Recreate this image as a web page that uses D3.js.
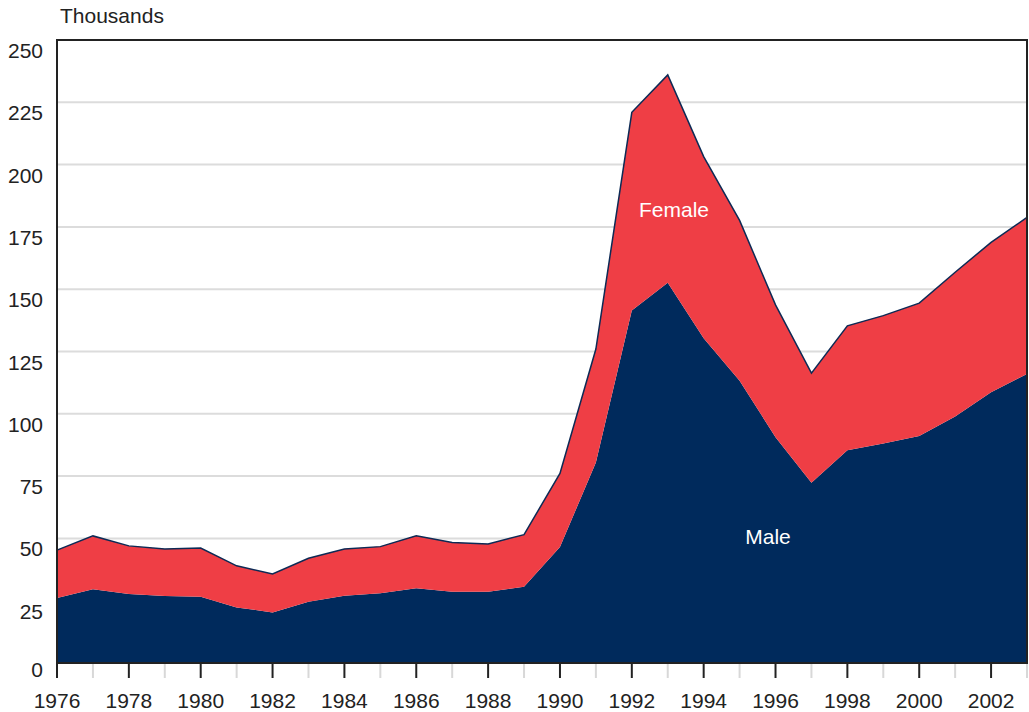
<!DOCTYPE html>
<html>
<head>
<meta charset="utf-8">
<script src="https://cdn.jsdelivr.net/npm/d3@7"></script>
<style>
  body { margin: 0; background: #fff; }
  svg { display: block; font-family: "Liberation Sans", Arial, sans-serif; }
</style>
</head>
<body>
<script>
// values in thousands
var years = [1976, 1977, 1978, 1979, 1980, 1981, 1982, 1983, 1984, 1985, 1986, 1987, 1988, 1989,
  1990, 1991, 1992, 1993, 1994, 1995, 1996, 1997, 1998, 1999, 2000, 2001, 2002, 2003];
var male = [26.1, 29.6, 27.7, 26.9, 26.6, 22.3, 20.3, 24.6, 27.0, 28.0, 30.0, 28.6, 28.6, 30.6,
  46.5, 80.5, 141.5, 152.6, 130.3, 113.3, 90.6, 72.3, 85.4, 88.1, 91.1, 98.9, 108.6, 116.0];
var female = [19.2, 21.4, 19.3, 18.8, 19.5, 16.7, 15.4, 17.4, 18.7, 18.7, 21.1, 19.8, 19.2, 20.9,
  29.6, 45.5, 79.5, 83.4, 72.9, 64.3, 53.1, 44.0, 49.9, 51.3, 53.3, 57.9, 60.2, 62.8];
var yTicks = [0, 25, 50, 75, 100, 125, 150, 175, 200, 225, 250];
var xLabelYears = d3.range(1976, 2003, 2);

var width = 1029, height = 712;
var plotLeft = 57, plotRight = 1027, plotTop = 40, plotBottom = 663;

var svg = d3.select('body').append('svg')
  .attr('width', width)
  .attr('height', height);

var x = d3.scaleLinear().domain([1976, 2003]).range([plotLeft, plotRight]);
var y = d3.scaleLinear().domain([0, 250]).range([plotBottom, plotTop]);

var rows = years.map(function (yr, i) {
  return { year: yr, male: male[i], female: female[i] };
});
var series = d3.stack().keys(['male', 'female'])(rows);

// gridlines
svg.append('g').selectAll('line')
  .data(yTicks.filter(function (d) { return d > 0 && d < 250; }))
  .join('line')
  .attr('x1', plotLeft).attr('x2', plotRight)
  .attr('y1', function (d) { return y(d); })
  .attr('y2', function (d) { return y(d); })
  .attr('stroke', '#dcdcdc')
  .attr('stroke-width', 2);

var area = d3.area()
  .x(function (d) { return x(d.data.year); })
  .y0(function (d) { return y(d[0]); })
  .y1(function (d) { return y(d[1]); });

var colors = { male: '#002a5c', female: '#ef3e45' };

svg.append('g').selectAll('path')
  .data(series)
  .join('path')
  .attr('d', area)
  .attr('fill', function (d) { return colors[d.key]; });

// outline on top of the total
var topLine = d3.line()
  .x(function (d) { return x(d.data.year); })
  .y(function (d) { return y(d[1]); });
svg.append('path')
  .datum(series[1])
  .attr('d', topLine)
  .attr('fill', 'none')
  .attr('stroke', '#0d2a55')
  .attr('stroke-width', 1.5);

// x ticks: odd years light, even years dark
var xAxis = svg.append('g');
xAxis.selectAll('line')
  .data(years)
  .join('line')
  .attr('x1', function (d) { return x(d); })
  .attr('x2', function (d) { return x(d); })
  .attr('y1', plotBottom)
  .attr('y2', plotBottom + 15)
  .attr('stroke', function (d) { return d % 2 === 0 ? '#222' : '#d8d8d8'; })
  .attr('stroke-width', 2);

xAxis.selectAll('text')
  .data(xLabelYears)
  .join('text')
  .attr('x', function (d) { return x(d); })
  .attr('y', 708)
  .attr('text-anchor', 'middle')
  .attr('font-size', 21)
  .attr('fill', '#222')
  .text(function (d) { return d; });

// y labels
svg.append('g').selectAll('text')
  .data(yTicks)
  .join('text')
  .attr('x', 43)
  .attr('y', function (d) { return y(d) + (d === 0 ? 14 : 18); })
  .attr('text-anchor', 'end')
  .attr('font-size', 21)
  .attr('fill', '#222')
  .text(function (d) { return d; });

// frame
svg.append('rect')
  .attr('x', plotLeft).attr('y', plotTop)
  .attr('width', plotRight - plotLeft).attr('height', plotBottom - plotTop)
  .attr('fill', 'none')
  .attr('stroke', '#222')
  .attr('stroke-width', 2);

svg.append('text')
  .attr('x', 60).attr('y', 23)
  .attr('font-size', 21)
  .attr('fill', '#222')
  .text('Thousands');

svg.append('text')
  .attr('x', 674).attr('y', 217)
  .attr('text-anchor', 'middle')
  .attr('font-size', 21)
  .attr('fill', '#fff')
  .text('Female');

svg.append('text')
  .attr('x', 768).attr('y', 544)
  .attr('text-anchor', 'middle')
  .attr('font-size', 21)
  .attr('fill', '#fff')
  .text('Male');
</script>
</body>
</html>
